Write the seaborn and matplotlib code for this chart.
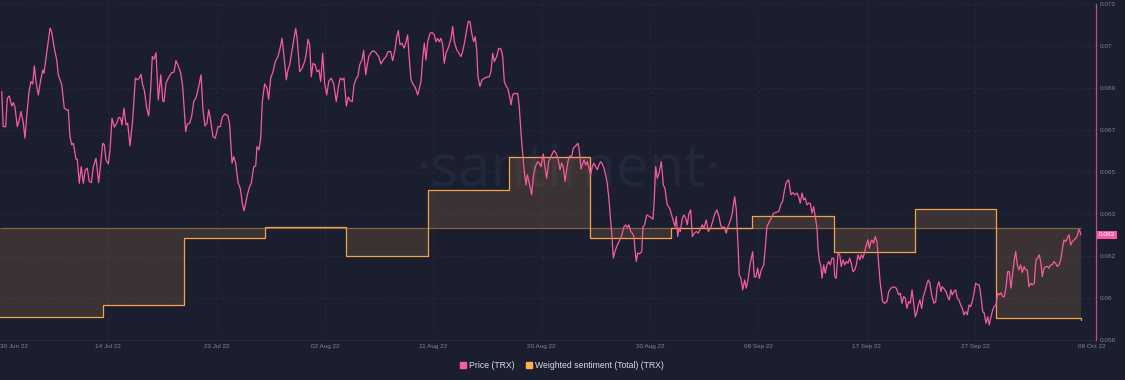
import matplotlib
matplotlib.use("Agg")
import matplotlib.pyplot as plt
import matplotlib.transforms as mtransforms
from matplotlib.lines import Line2D
import numpy as np
import pandas as pd
import seaborn as sns

# TRX price, time given as days after 2022-07-05 04:00
price_day = [
    0.15, 0.28, 0.49, 0.63, 0.80, 1.01, 1.15, 1.29, 1.49, 1.66,
    1.81, 2.01, 2.15, 2.30, 2.50, 2.67, 2.82, 2.96, 3.10, 3.30,
    3.51, 3.68, 3.79, 4.02, 4.31, 4.45, 4.65, 4.89, 5.02, 5.32,
    5.54, 5.75, 5.88, 6.03, 6.18, 6.32, 6.55, 6.66, 6.83, 7.00,
    7.18, 7.35, 7.52, 7.69, 7.87, 8.04, 8.27, 8.50, 8.68, 8.85,
    8.99, 9.13, 9.33, 9.48, 9.65, 9.85, 10.05, 10.23, 10.40, 10.51,
    10.68, 10.86, 11.00, 11.20, 11.43, 11.66, 11.83, 12.00, 12.15, 12.29,
    12.43, 12.64, 12.81, 12.98, 13.12, 13.27, 13.44, 13.64, 13.85, 14.02,
    14.13, 14.30, 14.56, 14.79, 14.99, 15.16, 15.36, 15.57, 15.74, 15.81,
    16.00, 16.14, 16.34, 16.52, 16.69, 16.91, 17.12, 17.32, 17.49, 17.66,
    17.83, 17.98, 18.12, 18.35, 18.55, 18.78, 18.98, 19.15, 19.36, 19.64,
    19.79, 19.99, 20.13, 20.31, 20.51, 20.70, 20.88, 21.02, 21.17, 21.31,
    21.51, 21.65, 21.86, 22.03, 22.14, 22.31, 22.46, 22.60, 22.80, 23.00,
    23.15, 23.32, 23.52, 23.72, 23.95, 24.10, 24.30, 24.44, 24.67, 24.81,
    24.96, 25.10, 25.24, 25.48, 25.61, 25.82, 26.02, 26.25, 26.39, 26.54,
    26.68, 26.82, 26.97, 27.16, 27.31, 27.48, 27.63, 27.80, 27.97, 28.15,
    28.32, 28.54, 28.75, 28.97, 29.18, 29.32, 29.49, 29.64, 29.84, 30.01,
    30.18, 30.35, 30.50, 30.70, 30.84, 30.99, 31.19, 31.33, 31.51, 31.77,
    31.96, 32.16, 32.39, 32.63, 32.83, 33.02, 33.26, 33.45, 33.66, 33.83,
    34.03, 34.18, 34.32, 34.46, 34.63, 34.83, 34.98, 35.12, 35.26, 35.41,
    35.61, 35.78, 35.99, 36.13, 36.27, 36.42, 36.56, 36.70, 36.85, 37.05,
    37.22, 37.42, 37.56, 37.71, 37.85, 37.99, 38.14, 38.28, 38.43, 38.66,
    38.86, 39.00, 39.14, 39.35, 39.52, 39.72, 39.86, 40.04, 40.21, 40.35,
    40.49, 40.67, 40.81, 40.95, 41.07, 41.18, 41.35, 41.53, 41.73, 41.93,
    42.16, 42.30, 42.45, 42.59, 42.79, 42.97, 43.17, 43.31, 43.45, 43.60,
    43.74, 43.88, 44.03, 44.17, 44.31, 44.46, 44.60, 44.74, 44.89, 45.03,
    45.17, 45.32, 45.43, 45.60, 45.81, 45.95, 46.12, 46.33, 46.46, 46.61,
    46.81, 46.95, 47.10, 47.27, 47.53, 47.73, 47.93, 48.10, 48.25, 48.39,
    48.53, 48.68, 48.82, 48.96, 49.11, 49.25, 49.39, 49.60, 49.80, 49.94,
    50.06, 50.17, 50.31, 50.46, 50.60, 50.75, 50.89, 51.03, 51.18, 51.32,
    51.46, 51.61, 51.75, 51.89, 52.04, 52.18, 52.32, 52.47, 52.61, 52.75,
    52.84, 52.98, 53.13, 53.33, 53.56, 53.76, 53.91, 54.04, 54.19, 54.34,
    54.48, 54.62, 54.71, 54.82, 54.94, 55.11, 55.29, 55.40, 55.54, 55.72,
    55.86, 56.06, 56.26, 56.37, 56.49, 56.63, 56.78, 56.98, 57.15, 57.29,
    57.49, 57.70, 57.87, 58.04, 58.16, 58.27, 58.39, 58.50, 58.61, 58.79,
    58.93, 59.08, 59.22, 59.36, 59.51, 59.65, 59.82, 59.99, 60.16, 60.37,
    60.51, 60.65, 60.85, 61.02, 61.23, 61.43, 61.60, 61.77, 61.95, 62.09,
    62.23, 62.40, 62.57, 62.72, 62.95, 63.09, 63.30, 63.44, 63.58, 63.69,
    63.84, 63.99, 64.16, 64.30, 64.44, 64.64, 64.85, 64.99, 65.13, 65.28,
    65.42, 65.59, 65.80, 65.93, 66.08, 66.28, 66.45, 66.66, 66.86, 67.09,
    67.31, 67.43, 67.57, 67.72, 67.86, 67.95, 68.15, 68.32, 68.47, 68.67,
    68.81, 68.95, 69.10, 69.24, 69.38, 69.53, 69.68, 69.81, 69.96, 70.10,
    70.24, 70.39, 70.48, 70.59, 70.73, 70.82, 70.97, 71.10, 71.25, 71.40,
    71.54, 71.68, 71.83, 71.92, 72.05, 72.20, 72.35, 72.48, 72.63, 72.78,
    72.91, 73.06, 73.21, 73.34, 73.49, 73.64, 73.78, 73.92, 74.07, 74.21,
    74.35, 74.50, 74.64, 74.79, 74.90, 75.04, 75.13, 75.27, 75.41, 75.56,
    75.71, 75.84, 76.05, 76.22, 76.42, 76.57, 76.77, 77.00, 77.22, 77.43,
    77.57, 77.71, 77.86, 78.00, 78.14, 78.29, 78.43, 78.58, 78.72, 78.86,
    78.98, 79.12, 79.26, 79.41, 79.55, 79.69, 79.84, 79.98, 80.12, 80.27,
    80.47, 80.62, 80.75, 80.90, 81.07, 81.18, 81.36, 81.50, 81.65, 81.79,
    81.93, 82.05, 82.19, 82.34, 82.48, 82.62, 82.77, 82.91, 83.05, 83.20,
    83.34, 83.49, 83.63, 83.77, 83.92, 84.06, 84.20, 84.37, 84.52, 84.67,
    84.80, 84.95, 85.10, 85.23, 85.38, 85.53, 85.66, 85.81, 85.96, 86.10,
    86.24, 86.39, 86.53, 86.67, 86.82, 86.96, 87.10, 87.25, 87.39, 87.51,
    87.65, 87.79, 87.94, 88.08, 88.23, 88.37, 88.51, 88.65, 88.80, 88.94,
    89.11, 89.26, 89.40, 89.54, 89.69, 89.80, 89.95, 90.09, 90.23, 90.38,
    90.52, 90.66, 90.81, 90.95, 91.09, 91.24, 91.38, 91.52, 91.67, 91.82,
    91.95, 92.10, 92.25, 92.39, 92.53, 92.68, 92.82, 92.96, 93.05, 93.13,
]
price_trx = [
    0.06835, 0.06689, 0.06689, 0.06807, 0.06817, 0.06775, 0.06789, 0.06770, 0.06689, 0.06717,
    0.06752, 0.06703, 0.06641, 0.06731, 0.06835, 0.06877, 0.06867, 0.06942, 0.06877, 0.06821,
    0.06884, 0.06925, 0.06912, 0.06995, 0.07099, 0.07085, 0.07022, 0.06967, 0.06905, 0.06863,
    0.06766, 0.06759, 0.06759, 0.06647, 0.06613, 0.06620, 0.06553, 0.06553, 0.06453, 0.06522,
    0.06453, 0.06509, 0.06516, 0.06460, 0.06456, 0.06522, 0.06557, 0.06456, 0.06537, 0.06620,
    0.06613, 0.06550, 0.06534, 0.06592, 0.06724, 0.06687, 0.06703, 0.06728, 0.06724, 0.06696,
    0.06766, 0.06696, 0.06703, 0.06609, 0.06717, 0.06891, 0.06884, 0.06891, 0.06907, 0.06863,
    0.06842, 0.06766, 0.06734, 0.06842, 0.06981, 0.06970, 0.06997, 0.06800, 0.06905, 0.06797,
    0.06793, 0.06870, 0.06897, 0.06914, 0.06916, 0.06964, 0.06942, 0.06912, 0.06856, 0.06807,
    0.06668, 0.06700, 0.06703, 0.06734, 0.06793, 0.06812, 0.06856, 0.06905, 0.06759, 0.06692,
    0.06703, 0.06759, 0.06724, 0.06647, 0.06641, 0.06689, 0.06689, 0.06728, 0.06742, 0.06734,
    0.06696, 0.06537, 0.06564, 0.06537, 0.06456, 0.06432, 0.06370, 0.06338, 0.06370, 0.06405,
    0.06439, 0.06453, 0.06522, 0.06525, 0.06606, 0.06592, 0.06641, 0.06793, 0.06867, 0.06849,
    0.06803, 0.06891, 0.06918, 0.06960, 0.06981, 0.07009, 0.07057, 0.06995, 0.06884, 0.06925,
    0.06946, 0.06988, 0.07030, 0.07099, 0.07050, 0.06918, 0.06932, 0.06960, 0.06995, 0.07053,
    0.07030, 0.06897, 0.06953, 0.06946, 0.06918, 0.06925, 0.06877, 0.06995, 0.06870, 0.06821,
    0.06877, 0.06891, 0.06867, 0.06793, 0.06863, 0.06891, 0.06884, 0.06891, 0.06775, 0.06812,
    0.06797, 0.06793, 0.06863, 0.06891, 0.06900, 0.06946, 0.06967, 0.07006, 0.06905, 0.06981,
    0.06997, 0.07006, 0.06997, 0.06981, 0.06950, 0.06967, 0.06981, 0.07002, 0.07002, 0.06964,
    0.07009, 0.07064, 0.07089, 0.07030, 0.07037, 0.07016, 0.07043, 0.07071, 0.06974, 0.06884,
    0.06863, 0.06853, 0.06821, 0.06849, 0.06877, 0.06974, 0.07037, 0.06967, 0.07043, 0.07078,
    0.07081, 0.07071, 0.07043, 0.07057, 0.07043, 0.07057, 0.07030, 0.06953, 0.06995, 0.07022,
    0.07057, 0.07106, 0.07043, 0.07009, 0.06997, 0.06981, 0.07002, 0.07043, 0.07092, 0.07127,
    0.07127, 0.07071, 0.07043, 0.07064, 0.07009, 0.06897, 0.06856, 0.06884, 0.06891, 0.06895,
    0.06897, 0.06918, 0.06995, 0.06960, 0.06981, 0.07016, 0.07012, 0.06981, 0.06877, 0.06859,
    0.06849, 0.06821, 0.06780, 0.06821, 0.06828, 0.06825, 0.06828, 0.06772, 0.06662, 0.06578,
    0.06502, 0.06446, 0.06488, 0.06453, 0.06405, 0.06481, 0.06522, 0.06543, 0.06537, 0.06522,
    0.06575, 0.06522, 0.06474, 0.06543, 0.06571, 0.06589, 0.06578, 0.06550, 0.06509, 0.06537,
    0.06522, 0.06460, 0.06509, 0.06550, 0.06567, 0.06562, 0.06599, 0.06609, 0.06620, 0.06578,
    0.06512, 0.06530, 0.06550, 0.06530, 0.06543, 0.06516, 0.06488, 0.06522, 0.06537, 0.06522,
    0.06509, 0.06530, 0.06543, 0.06534, 0.06516, 0.06488, 0.06453, 0.06384, 0.06300, 0.06217,
    0.06141, 0.06168, 0.06189, 0.06210, 0.06234, 0.06272, 0.06280, 0.06268, 0.06280, 0.06252,
    0.06245, 0.06231, 0.06175, 0.06127, 0.06162, 0.06159, 0.06168, 0.06272, 0.06280, 0.06321,
    0.06317, 0.06312, 0.06303, 0.06384, 0.06522, 0.06474, 0.06495, 0.06543, 0.06446, 0.06432,
    0.06363, 0.06349, 0.06321, 0.06293, 0.06272, 0.06314, 0.06231, 0.06266, 0.06252, 0.06307,
    0.06321, 0.06307, 0.06280, 0.06328, 0.06342, 0.06231, 0.06245, 0.06252, 0.06245, 0.06266,
    0.06280, 0.06266, 0.06300, 0.06252, 0.06266, 0.06300, 0.06328, 0.06342, 0.06314, 0.06280,
    0.06266, 0.06272, 0.06245, 0.06272, 0.06300, 0.06328, 0.06397, 0.06342, 0.06203, 0.06071,
    0.06057, 0.06009, 0.06050, 0.06016, 0.06050, 0.06120, 0.06168, 0.06064, 0.06062, 0.06099,
    0.06057, 0.06092, 0.06113, 0.06182, 0.06272, 0.06293, 0.06307, 0.06328, 0.06332, 0.06335,
    0.06370, 0.06377, 0.06418, 0.06453, 0.06464, 0.06467, 0.06405, 0.06414, 0.06405, 0.06412,
    0.06397, 0.06370, 0.06412, 0.06384, 0.06391, 0.06363, 0.06370, 0.06370, 0.06328, 0.06356,
    0.06314, 0.06266, 0.06182, 0.06134, 0.06106, 0.06057, 0.06113, 0.06078, 0.06113, 0.06127,
    0.06113, 0.06141, 0.06141, 0.06064, 0.06057, 0.06162, 0.06155, 0.06106, 0.06134, 0.06113,
    0.06127, 0.06120, 0.06141, 0.06120, 0.06085, 0.06092, 0.06113, 0.06155, 0.06134, 0.06155,
    0.06141, 0.06168, 0.06196, 0.06217, 0.06182, 0.06210, 0.06217, 0.06203, 0.06231, 0.06210,
    0.06113, 0.06037, 0.05960, 0.05953, 0.05960, 0.06002, 0.06016, 0.06022, 0.06016, 0.05988,
    0.05995, 0.05953, 0.05981, 0.05974, 0.05932, 0.05960, 0.05953, 0.06009, 0.05953, 0.05897,
    0.05912, 0.05946, 0.05967, 0.05932, 0.05981, 0.06002, 0.06030, 0.06050, 0.06037, 0.05988,
    0.05953, 0.05960, 0.06022, 0.06043, 0.06002, 0.06022, 0.06012, 0.06002, 0.05981, 0.05967,
    0.06009, 0.05988, 0.06002, 0.06009, 0.05974, 0.05967, 0.05946, 0.05932, 0.05905, 0.05918,
    0.05905, 0.05946, 0.05939, 0.05960, 0.05995, 0.06037, 0.06030, 0.06030, 0.05981, 0.05918,
    0.05912, 0.05870, 0.05897, 0.05863, 0.05897, 0.05925, 0.05939, 0.05946, 0.05995, 0.05988,
    0.05997, 0.05981, 0.05981, 0.06016, 0.06085, 0.06085, 0.06016, 0.06078, 0.06134, 0.06168,
    0.06113, 0.06092, 0.06113, 0.06081, 0.06106, 0.06092, 0.06092, 0.06022, 0.06037, 0.06030,
    0.06037, 0.06134, 0.06141, 0.06155, 0.06120, 0.06064, 0.06099, 0.06106, 0.06106, 0.06099,
    0.06113, 0.06113, 0.06127, 0.06120, 0.06106, 0.06113, 0.06134, 0.06175, 0.06217, 0.06210,
    0.06224, 0.06238, 0.06196, 0.06210, 0.06217, 0.06224, 0.06234, 0.06262, 0.06252, 0.06238,
]

# weekly weighted sentiment (arbitrary units)
sent_dates = ["2022-06-30 00:00", "2022-07-07 00:00", "2022-07-14 00:00", "2022-07-21 00:00",
              "2022-07-28 00:00", "2022-08-04 00:00", "2022-08-11 00:00", "2022-08-18 00:00",
              "2022-08-25 00:00", "2022-09-01 00:00", "2022-09-08 00:00", "2022-09-15 00:00",
              "2022-09-22 00:00", "2022-09-29 00:00", "2022-10-06 07:00"]
sent_vals = [-0.895, -0.895, -0.775, -0.10, 0.005, -0.285, 0.38, 0.705, -0.108, -0.005,
             0.118, -0.242, 0.182, -0.902, -0.928]

x_labels = ["30 Jun 22", "14 Jul 22", "23 Jul 22", "02 Aug 22", "11 Aug 22", "20 Aug 22",
            "30 Aug 22", "08 Sep 22", "17 Sep 22", "27 Sep 22", "06 Oct 22"]
y_labels = ["0.058", "0.06", "0.062", "0.063", "0.065", "0.067", "0.069", "0.07", "0.072"]
last_label = "0.063"

BG = "#1b1e2f"
PINK = "#f75c9f"
ORANGE = "#f2a548"
GRID = "#282c40"
TICK = "#80849a"

sns.set_theme(style="dark", rc={"axes.facecolor": BG, "figure.facecolor": BG})
plt.rcParams["font.family"] = ["Liberation Sans", "DejaVu Sans"]

start = pd.Timestamp("2022-07-05 04:00")
price_time = start + pd.to_timedelta(price_day, unit="D")
sent_time = pd.to_datetime(sent_dates, format="%Y-%m-%d %H:%M")

fig = plt.figure(figsize=(11.25, 3.8), dpi=100)
ax = fig.add_axes([0.0, 0.10526, 0.97422, 0.88421])
ax2 = ax.twinx()

# watermark
ax.text(0.519, 0.461, "·santiment·", transform=ax.transAxes, ha="center", va="baseline",
        fontsize=42, color="#23273a", family=["Open Sans", "DejaVu Sans"], zorder=0)

# sentiment fill + step line
sent_lim = (-1.125, 2.235)
ax.fill_between(sent_time, sent_vals, 0, step="post", color="#ffad4d", alpha=0.14,
                linewidth=0, zorder=1)
ax.hlines(0, start, sent_time[-1], color="#7d6243", linewidth=0.9, zorder=1.5)
sns.lineplot(x=sent_time, y=sent_vals, ax=ax, color=ORANGE, linewidth=0.9,
             drawstyle="steps-post", estimator=None, sort=False, zorder=2)
ax.set_ylim(*sent_lim)

# price
sns.lineplot(x=price_time, y=price_trx, ax=ax2, color=PINK, linewidth=0.9,
             estimator=None, sort=False, zorder=3)
ax2.set_ylim(0.058, 0.072)
ax.set_xlim(start, start + pd.Timedelta(days=94.43))

# x ticks
tick_pos = [start + pd.Timedelta(days=9.333 * k) for k in range(10)]
tick_pos.append(start + pd.Timedelta(days=94.08))
ax.set_xticks(tick_pos)
ax.set_xticklabels(x_labels)
ax.tick_params(axis="x", length=0, pad=3, labelsize=4.6, colors=TICK)
ax.get_xticklabels()[0].set_ha("left")
ax.set_xlabel("")
ax.set_ylabel("")

# horizontal grid drawn on the lower axes so it stays under the marks
ax.set_yticks(np.linspace(sent_lim[0], sent_lim[1], 9))
ax.tick_params(axis="y", left=False, labelleft=False)
ax.grid(axis="both", color=GRID, linestyle=(0, (4, 4)), linewidth=0.6)
ax.set_axisbelow(True)
gl = ax.xaxis.get_gridlines()
gl[0].set_visible(False)
gl[-1].set_visible(False)

# y ticks (right)
ax2.set_yticks(np.linspace(0.058, 0.072, 9))
ax2.set_yticklabels(y_labels)
ax2.tick_params(axis="y", length=0, pad=2.5, labelsize=4.6, colors=TICK)
ax2.grid(False)
ax2.set_xlabel("")
ax2.set_ylabel("")

for s in ["top", "left", "right"]:
    ax.spines[s].set_visible(False)
ax.spines["bottom"].set_color("#262a3b")
ax.spines["bottom"].set_linewidth(0.8)
for s in ["top", "left", "bottom"]:
    ax2.spines[s].set_visible(False)
ax2.spines["right"].set_visible(True)
ax2.spines["right"].set_color("#c24f89")
ax2.spines["right"].set_linewidth(0.9)

# last price badge
trans = mtransforms.blended_transform_factory(ax2.transAxes, ax2.transData)
ax2.annotate(last_label, xy=(1, price_trx[-1]), xycoords=trans, xytext=(2.2, 0),
             textcoords="offset points", ha="left", va="center", fontsize=4.6, color="white",
             bbox=dict(boxstyle="square,pad=0.25", fc=PINK, ec="none"), annotation_clip=False)

handles = [
    Line2D([], [], marker="s", linestyle="", color=PINK, markersize=4.2),
    Line2D([], [], marker="s", linestyle="", color="#ffad4d", markersize=4.2),
]
fig.legend(handles, ["Price (TRX)", "Weighted sentiment (Total) (TRX)"], loc="center",
           bbox_to_anchor=(0.4996, 1 - 366 / 380), ncol=2, frameon=False, fontsize=6.2,
           labelcolor="#dcdde4", handlelength=0.7, handletextpad=0.35, columnspacing=1.3)

fig.savefig("out.png", dpi=100, facecolor=BG)
